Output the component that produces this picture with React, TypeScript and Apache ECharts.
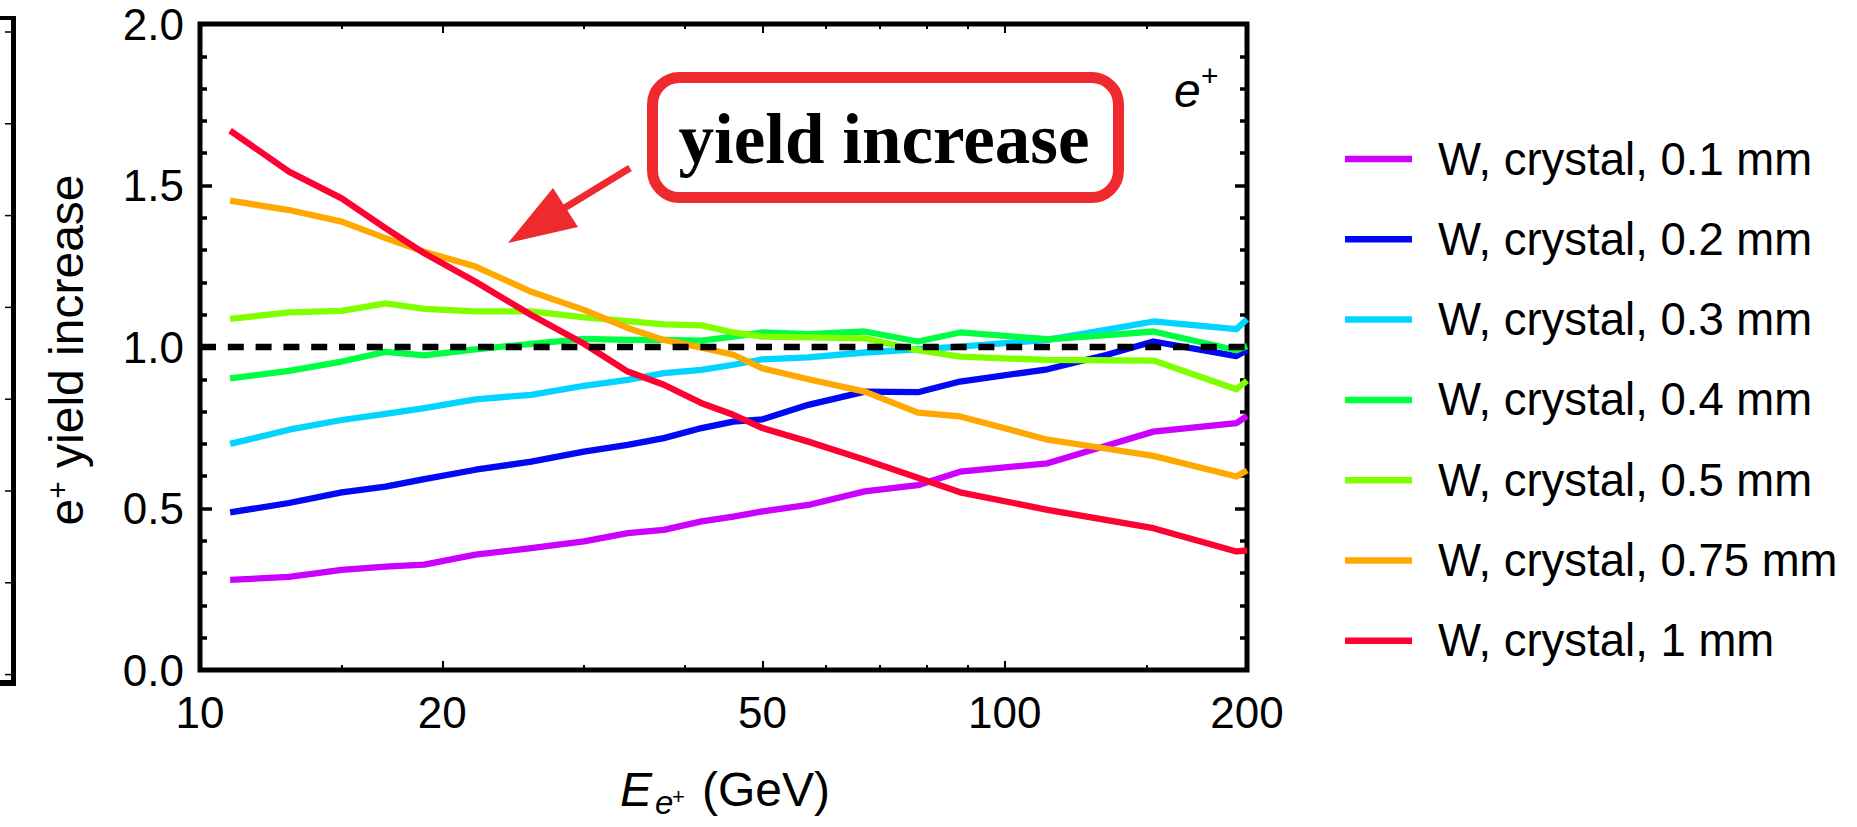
import React, { useEffect, useRef } from "react";
import * as echarts from "echarts";

// ---------- data ----------
const ENERGY_GEV = [10.9, 12.9, 15, 17, 19, 22, 25.8, 30, 34, 37.7, 42, 46, 50, 57, 67, 78, 88, 113, 134, 153, 194, 200];

const YIELD_W_0_1MM = [0.279, 0.288, 0.31, 0.32, 0.326, 0.357, 0.377, 0.398, 0.424, 0.434, 0.46, 0.475, 0.491, 0.511, 0.553, 0.572, 0.614, 0.64, 0.695, 0.738, 0.764, 0.787];
const YIELD_W_0_2MM = [0.488, 0.517, 0.55, 0.568, 0.591, 0.62, 0.645, 0.676, 0.697, 0.718, 0.749, 0.769, 0.776, 0.821, 0.862, 0.86, 0.893, 0.931, 0.976, 1.017, 0.972, 0.991];
const YIELD_W_0_3MM = [0.7, 0.744, 0.774, 0.793, 0.811, 0.838, 0.852, 0.88, 0.898, 0.919, 0.929, 0.945, 0.962, 0.968, 0.983, 0.993, 1.001, 1.022, 1.054, 1.079, 1.055, 1.086];
const YIELD_W_0_4MM = [0.903, 0.926, 0.955, 0.985, 0.974, 0.993, 1.01, 1.025, 1.022, 1.022, 1.02, 1.032, 1.045, 1.04, 1.048, 1.017, 1.045, 1.024, 1.037, 1.048, 0.99, 1.003];
const YIELD_W_0_5MM = [1.087, 1.107, 1.112, 1.135, 1.118, 1.11, 1.11, 1.092, 1.08, 1.07, 1.067, 1.045, 1.032, 1.03, 1.027, 0.99, 0.97, 0.96, 0.959, 0.958, 0.869, 0.896];
const YIELD_W_0_75MM = [1.453, 1.424, 1.388, 1.337, 1.295, 1.249, 1.171, 1.115, 1.059, 1.022, 0.998, 0.976, 0.934, 0.9, 0.862, 0.797, 0.785, 0.713, 0.685, 0.663, 0.599, 0.618];
const YIELD_W_1MM = [1.67, 1.543, 1.46, 1.368, 1.29, 1.202, 1.099, 1.01, 0.924, 0.883, 0.826, 0.79, 0.749, 0.707, 0.651, 0.595, 0.55, 0.496, 0.464, 0.439, 0.367, 0.37];

const SERIES_NAMES = [
  "W, crystal, 0.1 mm",
  "W, crystal, 0.2 mm",
  "W, crystal, 0.3 mm",
  "W, crystal, 0.4 mm",
  "W, crystal, 0.5 mm",
  "W, crystal, 0.75 mm",
  "W, crystal, 1 mm",
];
const SERIES_VALUES = [YIELD_W_0_1MM, YIELD_W_0_2MM, YIELD_W_0_3MM, YIELD_W_0_4MM, YIELD_W_0_5MM, YIELD_W_0_75MM, YIELD_W_1MM];

const X_MAJOR_TICKS = [10, 20, 50, 100, 200];
const X_MINOR_TICKS = [15, 30, 40, 60, 70, 80, 90, 150];
const X_RANGE = [10, 200];
const Y_RANGE = [0, 2];
const Y_STEP = 0.5;
const REFERENCE_LEVEL = 1.0;

// ---------- styles ----------
const SERIES_COLORS = ["#cc00ff", "#0008f4", "#00d4ff", "#00ff44", "#80ff00", "#ffa800", "#ff0033"];
const SANS = '"Liberation Sans", Arial, Helvetica, sans-serif';
const SERIF = '"Liberation Serif", "Times New Roman", serif';
const ANNOT_RED = "#ee2a2e";

function xAxisDef(position: "bottom" | "top", ticks: number[], len: number, withLabels: boolean) {
  return {
    type: "log",
    logBase: 10,
    min: X_RANGE[0],
    max: X_RANGE[1],
    position,
    axisLine: { show: false },
    splitLine: { show: false },
    minorTick: { show: false },
    minorSplitLine: { show: false },
    axisTick: {
      show: true,
      inside: true,
      length: len,
      customValues: ticks,
      lineStyle: { color: "#000", width: 2 },
    },
    axisLabel: withLabels
      ? {
          show: true,
          customValues: ticks,
          margin: 20,
          fontSize: 44,
          lineHeight: 44,
          fontFamily: SANS,
          color: "#000",
          hideOverlap: false,
          showMinLabel: true,
          showMaxLabel: true,
          formatter: (v: number) => String(Math.round(v)),
        }
      : { show: false },
  };
}

function yAxisDef(position: "left" | "right", withLabels: boolean) {
  return {
    type: "value",
    min: Y_RANGE[0],
    max: Y_RANGE[1],
    interval: Y_STEP,
    position,
    axisLine: { show: false },
    splitLine: { show: false },
    axisTick: { show: true, inside: true, length: 12, lineStyle: { color: "#000", width: 3.5 } },
    minorTick: { show: true, splitNumber: 5, length: 7, lineStyle: { color: "#000", width: 3.5 } },
    axisLabel: withLabels
      ? {
          show: true,
          margin: 16,
          fontSize: 44,
          lineHeight: 44,
          fontFamily: SANS,
          color: "#000",
          formatter: (v: number) => v.toFixed(1),
        }
      : { show: false },
  };
}

function buildOption() {
  const lineSeries = SERIES_NAMES.map((name, i) => ({
    type: "line",
    name,
    xAxisIndex: 0,
    yAxisIndex: 0,
    data: ENERGY_GEV.map((e, j) => [e, SERIES_VALUES[i][j]]),
    showSymbol: false,
    symbol: "none",
    silent: true,
    itemStyle: { color: SERIES_COLORS[i] },
    lineStyle: { color: SERIES_COLORS[i], width: 6.3, join: "round" },
  }));

  const refSeries = {
    type: "line",
    name: "reference",
    xAxisIndex: 0,
    yAxisIndex: 0,
    data: [
      [X_RANGE[0], REFERENCE_LEVEL],
      [X_RANGE[1], REFERENCE_LEVEL],
    ],
    showSymbol: false,
    symbol: "none",
    silent: true,
    z: 5,
    lineStyle: { color: "#000", width: 6.3, type: [16, 11.8] },
  };

  // decoration: fragment of the neighbouring panel frame at the far left
  const leftFrag: any[] = [
    { type: "line", shape: { x1: 13.5, y1: 18, x2: 13.5, y2: 686 }, style: { stroke: "#000", lineWidth: 5 } },
    { type: "line", shape: { x1: 0, y1: 18, x2: 16, y2: 18 }, style: { stroke: "#000", lineWidth: 4 } },
    { type: "line", shape: { x1: 0, y1: 683, x2: 16, y2: 683 }, style: { stroke: "#000", lineWidth: 6 } },
  ];
  for (let i = 0; i < 8; i++) {
    const y = 32 + i * 91.8;
    leftFrag.push({
      type: "line",
      shape: { x1: 11, y1: y, x2: 5, y2: y },
      style: { stroke: "#000", lineWidth: 1.5 },
    });
  }

  return {
    animation: false,
    backgroundColor: "#fff",
    grid: {
      left: 200,
      right: 610,
      top: 24,
      bottom: 157,
      show: true,
      borderColor: "#000",
      borderWidth: 5,
      backgroundColor: "transparent",
      containLabel: false,
      outerBoundsMode: "none",
    },
    legend: {
      show: true,
      orient: "vertical",
      left: 1345,
      top: 136,
      padding: 0,
      itemWidth: 67,
      itemHeight: 6.5,
      itemGap: 34.3,
      icon: "rect",
      selectedMode: false,
      data: SERIES_NAMES,
      itemStyle: { borderWidth: 0 },
      textStyle: { fontFamily: SANS, fontSize: 45.5, lineHeight: 45, color: "#000", padding: [0, 0, 0, 21] },
    },
    xAxis: [
      xAxisDef("bottom", X_MAJOR_TICKS, 9, true),
      xAxisDef("bottom", X_MINOR_TICKS, 5, false),
      xAxisDef("top", X_MAJOR_TICKS, 9, false),
      xAxisDef("top", X_MINOR_TICKS, 5, false),
    ],
    yAxis: [yAxisDef("left", true), yAxisDef("right", false)],
    series: [...lineSeries, refSeries],
    graphic: {
      elements: [
        ...leftFrag,
        // annotation box
        {
          type: "rect",
          z: 100,
          shape: { x: 652.5, y: 77.5, width: 466, height: 120, r: 27 },
          style: { fill: "#fff", stroke: ANNOT_RED, lineWidth: 11 },
        },
        {
          type: "text",
          z: 101,
          x: 884,
          y: 139,
          style: {
            text: "yield increase",
            fontFamily: SERIF,
            fontWeight: "bold",
            fontSize: 71,
            fill: "#000",
            textAlign: "center",
            textVerticalAlign: "middle",
          },
        },
        // arrow
        {
          type: "line",
          z: 100,
          shape: { x1: 630, y1: 168, x2: 562, y2: 209.5 },
          style: { stroke: ANNOT_RED, lineWidth: 7 },
        },
        {
          type: "polygon",
          z: 100,
          shape: { points: [[508, 243], [553, 188], [578, 227]] },
          style: { fill: ANNOT_RED },
        },
        // e+ label in the corner
        {
          type: "text",
          z: 100,
          x: 1174,
          y: 90.5,
          style: { text: "e", fontFamily: SANS, fontStyle: "italic", fontSize: 48, fill: "#000", textAlign: "left", textVerticalAlign: "middle" },
        },
        {
          type: "text",
          z: 100,
          x: 1201,
          y: 75,
          style: { text: "+", fontFamily: SANS, fontSize: 30, fill: "#000", textAlign: "left", textVerticalAlign: "middle" },
        },
        // y axis title
        {
          type: "text",
          z: 100,
          x: 66.5,
          y: 350,
          rotation: Math.PI / 2,
          style: {
            text: "{n|e}{s|+}{n| yield increase}",
            rich: {
              n: { fontFamily: SANS, fontSize: 48, lineHeight: 48, fill: "#000" },
              s: { fontFamily: SANS, fontSize: 30, lineHeight: 30, fill: "#000", verticalAlign: "top" },
            },
            textAlign: "center",
            textVerticalAlign: "middle",
          },
        },
        // x axis title: E_{e+} (GeV)
        {
          type: "text",
          z: 100,
          x: 620,
          y: 789,
          style: { text: "E", fontFamily: SANS, fontStyle: "italic", fontSize: 48, fill: "#000", textAlign: "left", textVerticalAlign: "middle" },
        },
        {
          type: "text",
          z: 100,
          x: 655,
          y: 802.5,
          style: { text: "e", fontFamily: SANS, fontStyle: "italic", fontSize: 33, fill: "#000", textAlign: "left", textVerticalAlign: "middle" },
        },
        {
          type: "text",
          z: 100,
          x: 672,
          y: 796.5,
          style: { text: "+", fontFamily: SANS, fontSize: 22, fill: "#000", textAlign: "left", textVerticalAlign: "middle" },
        },
        {
          type: "text",
          z: 100,
          x: 702,
          y: 789,
          style: { text: "(GeV)", fontFamily: SANS, fontSize: 48, fill: "#000", textAlign: "left", textVerticalAlign: "middle" },
        },
      ],
    },
  };
}

export default function App() {
  const ref = useRef<HTMLDivElement>(null);
  useEffect(() => {
    const el = ref.current;
    if (!el) return;
    const chart = echarts.init(el, null, { renderer: "svg" });
    chart.setOption(buildOption() as any);
    return () => {
      chart.dispose();
    };
  }, []);
  return (
    <div
      ref={ref}
      style={{ position: "absolute", left: 0, top: 0, width: 1857, height: 827, background: "#fff" }}
    />
  );
}
